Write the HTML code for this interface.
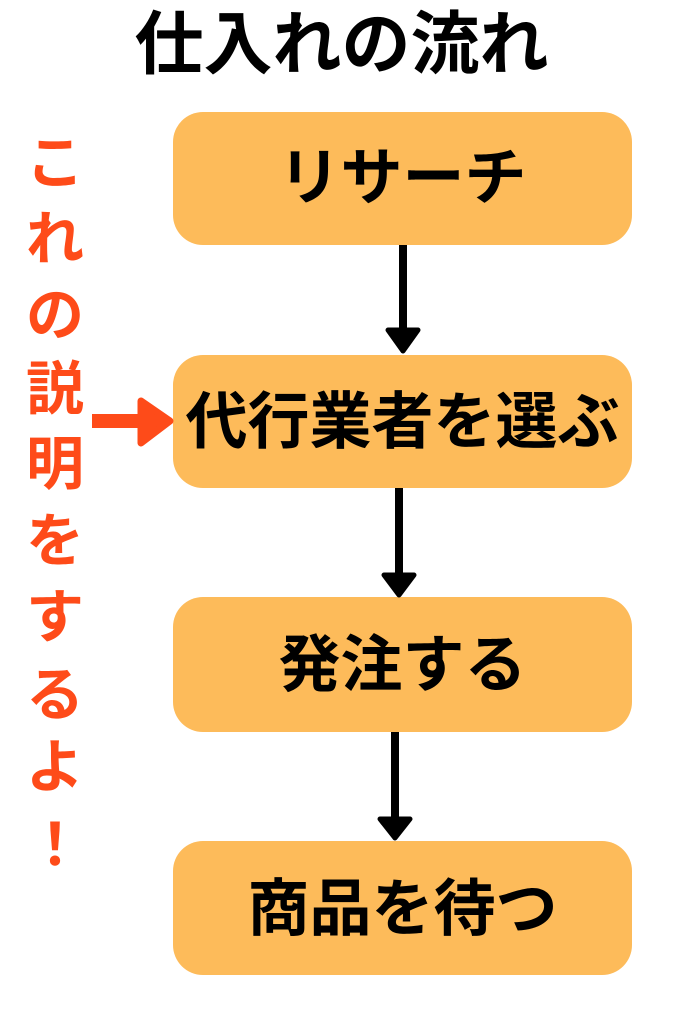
<!DOCTYPE html>
<html lang="ja">
<head>
<meta charset="utf-8">
<style>
  html, body { margin:0; padding:0; background:#ffffff; }
  body { width:683px; height:1024px; position:relative; overflow:hidden;
         font-family:"Liberation Sans","Noto Sans CJK JP",sans-serif; }
  .title { position:absolute; left:0; width:683px; top:10px; text-align:center;
           font-size:69px; line-height:69px; font-weight:700; color:#000; white-space:nowrap; }
  .box { position:absolute; left:173px; width:459px; background:#FDBB5A; border-radius:30px; }
  .bt { position:absolute; left:173px; width:459px; text-align:center; font-size:62px;
        line-height:62px; font-weight:700; color:#000; white-space:nowrap; }
  .oc { position:absolute; left:25px; width:60px; text-align:center; font-size:58px;
        line-height:58px; font-weight:700; color:#FE4B19; }
  svg { position:absolute; left:0; top:0; }
</style>
</head>
<body>
  <div class="title">仕入れの流れ</div>

  <div class="box" style="top:112px;height:133px;"></div>
  <div class="box" style="top:355px;height:133px;"></div>
  <div class="box" style="top:597px;height:135px;"></div>
  <div class="box" style="top:841px;height:134px;"></div>

  <div class="bt" style="top:148px;">リサーチ</div>
  <div class="bt" style="top:392px;">代行業者を選ぶ</div>
  <div class="bt" style="top:635px;">発注する</div>
  <div class="bt" style="top:879px;">商品を待つ</div>

  <svg width="683" height="1024" viewBox="0 0 683 1024">
    <g stroke="#000" fill="#000">
      <line x1="403" y1="245" x2="403" y2="334" stroke-width="8"/>
      <polygon points="388,330 418,330 403,351" stroke-width="5" stroke-linejoin="round"/>
      <line x1="399" y1="488" x2="399" y2="578" stroke-width="8"/>
      <polygon points="384,575 414,575 399,595" stroke-width="5" stroke-linejoin="round"/>
      <line x1="395" y1="732" x2="395" y2="822" stroke-width="8"/>
      <polygon points="380,819 410,819 395,838" stroke-width="5" stroke-linejoin="round"/>
    </g>
    <g fill="#FE4B19" stroke="#FE4B19">
      <rect x="92" y="414" width="50" height="14" stroke="none"/>
      <polygon points="141,401 170,421 141,443" stroke-width="7" stroke-linejoin="round"/>
    </g>
  </svg>

  <div class="oc" style="top:135px;">こ</div>
  <div class="oc" style="top:211px;">れ</div>
  <div class="oc" style="top:287px;">の</div>
  <div class="oc" style="top:361px;">説</div>
  <div class="oc" style="top:436px;">明</div>
  <div class="oc" style="top:513px;">を</div>
  <div class="oc" style="top:589px;">す</div>
  <div class="oc" style="top:667px;">る</div>
  <div class="oc" style="top:739px;">よ</div>
  <div class="oc" style="top:817px;">！</div>
</body>
</html>
